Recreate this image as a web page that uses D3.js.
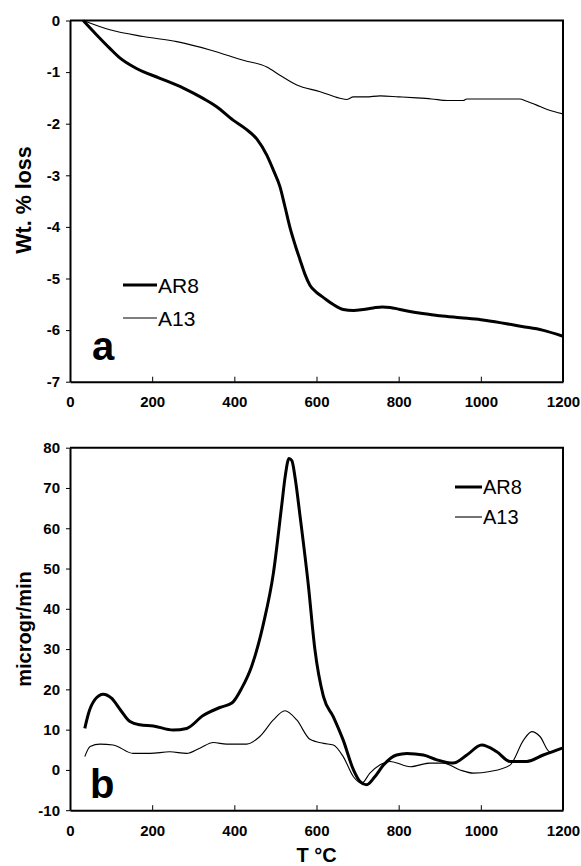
<!DOCTYPE html>
<html>
<head>
<meta charset="utf-8">
<script src="https://cdn.jsdelivr.net/npm/d3@7"></script>
<style>
  html, body { margin: 0; padding: 0; background: #fff; }
  svg { display: block; font-family: "Liberation Sans", Arial, sans-serif; }
</style>
</head>
<body>
<svg id="chart" width="581" height="866"></svg>
<script>
// ---------- DATA ----------
// Panel a: TGA weight loss (%)
const tgaTempAR8 = [32,65,97,122,162,219,276,324,357,397,426,455,479,495,511,523,535,548,560,572,584,600,617,640,665,690,714,738,760,779,803,850,900,950,1000,1050,1100,1150,1200];
const tgaAR8     = [0,-0.28,-0.54,-0.73,-0.93,-1.12,-1.31,-1.51,-1.67,-1.93,-2.09,-2.3,-2.61,-2.9,-3.22,-3.6,-4.0,-4.35,-4.64,-4.92,-5.13,-5.27,-5.37,-5.5,-5.6,-5.62,-5.6,-5.57,-5.55,-5.56,-5.6,-5.67,-5.72,-5.76,-5.8,-5.86,-5.93,-6.0,-6.12];
const tgaTempA13 = [32,97,178,260,341,422,479,511,552,609,649,673,690,720,755,800,844,880,920,957,966,1000,1050,1095,1110,1136,1160,1180,1200];
const tgaA13     = [0,-0.18,-0.31,-0.41,-0.57,-0.77,-0.9,-1.06,-1.25,-1.38,-1.49,-1.53,-1.48,-1.48,-1.46,-1.48,-1.5,-1.52,-1.55,-1.55,-1.52,-1.52,-1.52,-1.52,-1.56,-1.64,-1.72,-1.77,-1.81];

// Panel b: DTG (microgr/min)
const dtgTempAR8 = [36,45,61,81,101,122,146,170,203,251,284,324,365,394,418,442,471,495,515,524,533,540,548,560,580,596,617,641,665,690,706,722,742,763,795,820,860,893,933,966,1002,1039,1071,1112,1152,1200];
const dtgAR8     = [10.3,14,17.5,18.8,17.8,15,12,11.2,10.9,9.9,10.3,13.5,15.5,16.6,20.3,25.7,36.4,48.8,65.4,73,77.3,76.8,72.5,63,46,30,18.2,13.2,7.4,0,-2.9,-3.7,-1.7,1.2,3.7,4.1,3.7,2.5,1.7,3.7,6.2,4.5,2.1,2.1,3.7,5.5];
const dtgTempA13 = [36,49,73,105,154,195,243,284,316,349,381,430,462,495,523,552,584,617,641,665,690,710,730,754,779,828,876,909,949,982,1022,1071,1104,1124,1144,1168,1200];
const dtgA13     = [3.3,5.8,6.4,6.2,4.1,4.1,4.5,4.1,5.4,6.8,6.4,6.4,8.3,12.4,14.7,12.4,7.6,6.6,6.2,3.3,-1.7,-3.3,-0.8,1.2,2.1,0.8,1.7,1.7,0,-0.8,-0.4,1.2,7.4,9.5,8.3,4.5,5.6];

const xTicks = [0,200,400,600,800,1000,1200];
const tgaTicks = [0,-1,-2,-3,-4,-5,-6,-7];
const dtgTicks = [80,70,60,50,40,30,20,10,0,-10];
const seriesNames = ["AR8","A13"];
const panelLetters = ["a","b"];
const yTitles = ["Wt. % loss","microgr/min"];
const xTitle = "T °C";

// ---------- DRAW ----------
const svg = d3.select("#chart");
const left = 70, right = 563;
const x = d3.scaleLinear().domain([0,1200]).range([left,right]);
const fmt = d => String(d);   // plain hyphen-minus like the original

const panels = [
  { top: 20.5, bottom: 381.7, domain: [-7,0], ticks: tgaTicks,
    series: [ {T: tgaTempAR8, v: tgaAR8, w: 3}, {T: tgaTempA13, v: tgaA13, w: 1.1} ],
    legend: { x1: 123, x2: 157, y: 285, dy: 33, fs: 21, weight: "normal" },
    letter: { x: 92, y: 360 }, titleY: 200, titleFs: 21.5 },
  { top: 447.7, bottom: 810.2, domain: [-10,80], ticks: dtgTicks,
    series: [ {T: dtgTempAR8, v: dtgAR8, w: 3}, {T: dtgTempA13, v: dtgA13, w: 1.1} ],
    legend: { x1: 455, x2: 482, y: 487, dy: 30, fs: 20, weight: "normal" },
    letter: { x: 90, y: 798 }, titleY: 629, titleFs: 20 }
];

panels.forEach((p, i) => {
  const y = d3.scaleLinear().domain(p.domain).range([p.bottom, p.top]);
  const g = svg.append("g");

  // frame (top & right)
  g.append("path")
    .attr("d", `M${left},${p.top}H${right}V${p.bottom}`)
    .attr("fill", "none").attr("stroke", "#000").attr("stroke-width", 2);

  // y axis
  const ya = g.append("g").attr("transform", `translate(${left},0)`)
    .call(d3.axisLeft(y).tickValues(p.ticks).tickSizeInner(4).tickSizeOuter(0).tickPadding(6).tickFormat(fmt));
  ya.select(".domain").attr("stroke-width", 2);
  ya.selectAll(".tick line").attr("stroke-width", 1);
  ya.selectAll("text").attr("font-size", 15).attr("font-weight", "bold").attr("font-family", "Liberation Sans, Arial, sans-serif");

  // x axis
  const xa = g.append("g").attr("transform", `translate(0,${p.bottom})`)
    .call(d3.axisBottom(x).tickValues(xTicks).tickSizeInner(-5).tickSizeOuter(0).tickPadding(15).tickFormat(fmt));
  xa.select(".domain").attr("stroke-width", 2);
  xa.selectAll(".tick line").attr("stroke-width", 1);
  xa.selectAll("text").attr("font-size", 15).attr("font-weight", "bold").attr("font-family", "Liberation Sans, Arial, sans-serif");

  // lines
  const line = d3.line().x(d => x(d[0])).y(d => y(d[1])).curve(d3.curveMonotoneX);
  p.series.forEach(s => {
    const pts = s.T.map((t, k) => [t, s.v[k]]);
    g.append("path").datum(pts).attr("d", line)
      .attr("fill", "none").attr("stroke", "#000").attr("stroke-width", s.w)
      .attr("stroke-linejoin", "round");
  });

  // legend
  seriesNames.forEach((name, k) => {
    const ly = p.legend.y + k * p.legend.dy;
    g.append("line").attr("x1", p.legend.x1).attr("x2", p.legend.x2)
      .attr("y1", ly).attr("y2", ly)
      .attr("stroke", "#000").attr("stroke-width", p.series[k].w);
    g.append("text").attr("x", p.legend.x2 + 1).attr("y", ly).attr("dy", "0.36em")
      .attr("font-size", p.legend.fs).attr("font-weight", p.legend.weight).text(name);
  });

  // panel letter
  g.append("text").attr("x", p.letter.x).attr("y", p.letter.y)
    .attr("font-size", 40).attr("font-weight", "bold").text(panelLetters[i]);

  // y title
  g.append("text").attr("transform", `translate(31,${p.titleY}) rotate(-90)`)
    .attr("text-anchor", "middle").attr("font-size", p.titleFs).attr("font-weight", "bold")
    .text(yTitles[i]);
});

// x title
svg.append("text").attr("x", (left + right) / 2).attr("y", 862)
  .attr("text-anchor", "middle").attr("font-size", 20).attr("font-weight", "bold").text(xTitle);
</script>
</body>
</html>
